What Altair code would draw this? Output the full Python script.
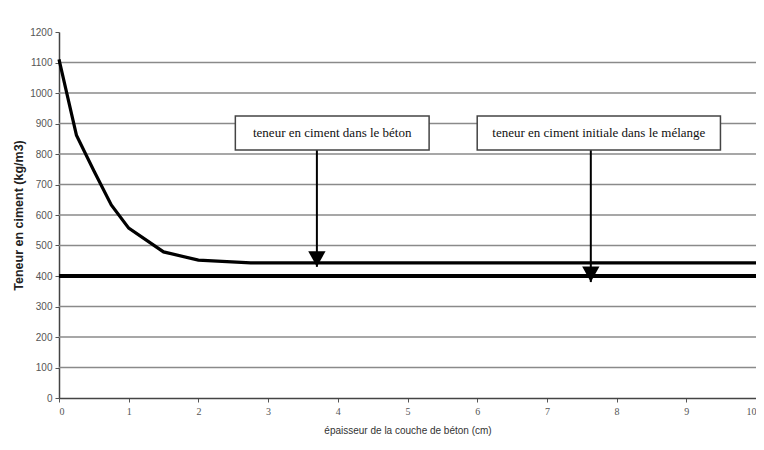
import altair as alt
import pandas as pd

# ---- data ----
x_cm = [0, 0.25, 0.5, 0.75, 1.0, 1.5, 2.0, 2.75, 10.0]
teneur_beton = [1110, 862, 745, 633, 557, 479, 452, 443, 443]
teneur_initiale = [400]
grid_values = [100, 200, 300, 400, 500, 600, 700, 800, 900, 1000, 1100]

box_labels = ["teneur en ciment dans le béton",
              "teneur en ciment initiale dans le mélange"]
box_x1 = [2.53, 6.0]
box_x2 = [5.31, 9.49]
box_y1 = [813, 813]
box_y2 = [925, 925]
arrow_x = [3.70, 7.63]
arrow_tip = [430, 380]

curve = pd.DataFrame({"x": x_cm, "y": teneur_beton})
init = pd.DataFrame({"y": teneur_initiale})
grid = pd.DataFrame({"y": grid_values})
boxes = pd.DataFrame({
    "label": box_labels, "x1": box_x1, "x2": box_x2, "y1": box_y1, "y2": box_y2,
    "xc": [(a + b) / 2 for a, b in zip(box_x1, box_x2)],
    "yc": [(a + b) / 2 for a, b in zip(box_y1, box_y2)],
    "ax": arrow_x, "tip": arrow_tip,
})

xscale = alt.Scale(domain=[0, 10], nice=False, zero=False)
yscale = alt.Scale(domain=[0, 1200], nice=False)
xaxis = alt.Axis(values=list(range(0, 11)), format="d", grid=False,
                 tickSize=4, labelPadding=4, labelFontSize=10,
                 labelFont="Liberation Sans Narrow", labelColor="#555",
                 domainColor="#444", domainWidth=1.5, tickColor="#555",
                 title="épaisseur de la couche de béton (cm)",
                 titleFont="Liberation Sans", titleFontSize=10,
                 titleFontWeight="normal", titleColor="#333", titlePadding=9)
yaxis = alt.Axis(values=list(range(0, 1201, 100)), format="d", grid=False,
                 tickSize=4, labelPadding=3, labelFontSize=10,
                 labelFont="Liberation Sans", labelColor="#555",
                 domainColor="#444", domainWidth=1.5, tickColor="#555",
                 title="Teneur en ciment (kg/m3)",
                 titleFont="Liberation Sans", titleFontSize=12.5,
                 titleFontWeight="bold", titleColor="#222",
                 titleBaseline="middle", titleX=-41, titleY=183)
TITLE_X = "épaisseur de la couche de béton (cm)"
TITLE_Y = "Teneur en ciment (kg/m3)"


def X(f):
    return alt.X(f, type="quantitative", scale=xscale, axis=xaxis, title=TITLE_X)


def Y(f):
    return alt.Y(f, type="quantitative", scale=yscale, axis=yaxis, title=TITLE_Y)


grid_layer = alt.Chart(grid).mark_rule(color="#8a8a8a", strokeWidth=1.5).encode(y=Y("y"))

curve_layer = alt.Chart(curve).mark_line(color="black", strokeWidth=3.2).encode(
    x=X("x"), y=Y("y"))

init_layer = alt.Chart(init).mark_rule(color="black", strokeWidth=4).encode(y=Y("y"))

shaft_layer = alt.Chart(boxes).mark_rule(color="black", strokeWidth=2).encode(
    x=X("ax"), y=Y("y1"), y2="tip")

head_layer = alt.Chart(boxes).mark_point(
    shape="M-1,-1.8 L1,-1.8 L0,0 Z", filled=True, color="black",
    size=300, opacity=1, strokeWidth=0).encode(x=X("ax"), y=Y("tip"))

box_layer = alt.Chart(boxes).mark_rect(
    fill="white", stroke="#444", strokeWidth=1.5).encode(
    x=X("x1"), x2="x2", y=Y("y1"), y2="y2")

text_layer = alt.Chart(boxes).mark_text(
    font="Liberation Serif", fontSize=13, color="#111").encode(
    x=X("xc"), y=Y("yc"), text="label:N")

chart = alt.layer(
    grid_layer, curve_layer, init_layer, shaft_layer, head_layer,
    box_layer, text_layer
).properties(
    width=697, height=366,
    autosize=alt.AutoSizeParams(type="none"),
    padding={"left": 51, "top": 24, "right": 0, "bottom": 50},
    background="white",
).configure_view(stroke=None)

chart.save("out.html", embed_options={"renderer": "svg", "actions": False})
